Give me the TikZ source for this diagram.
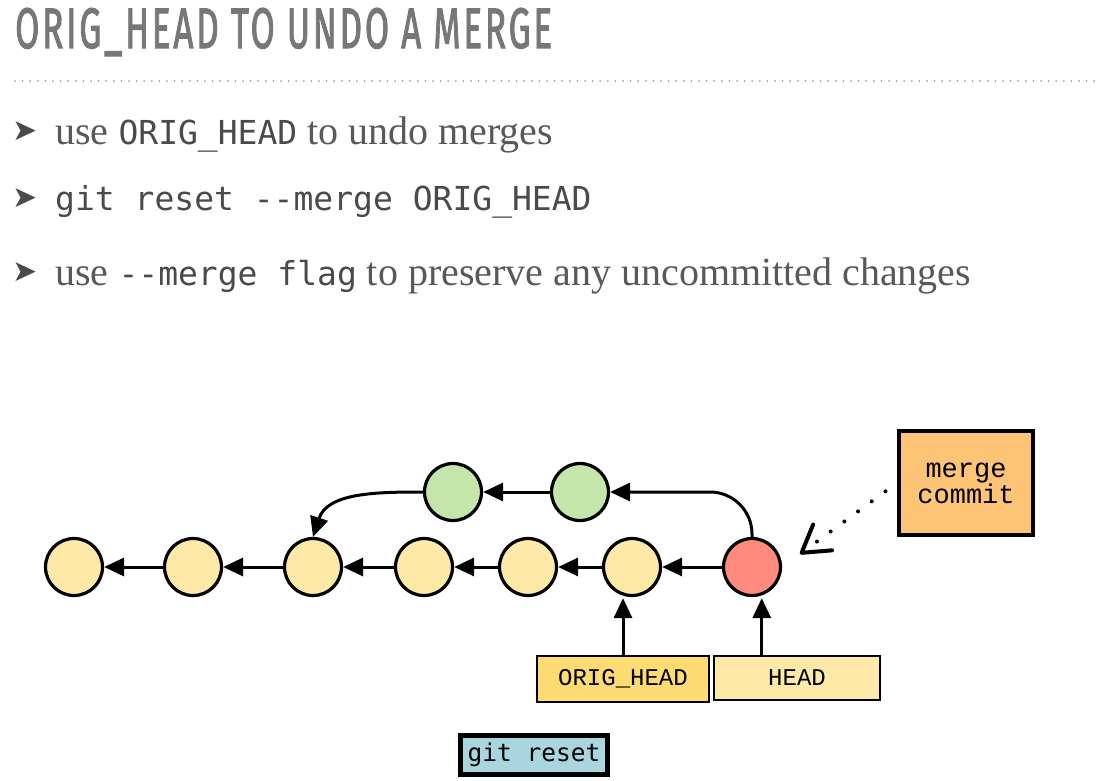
\documentclass[tikz,border=0pt]{standalone}
\usepackage{fontspec}
\usetikzlibrary{arrows.meta,calc}
\setmainfont{Liberation Serif}
\newfontfamily\titlefont[LetterSpace=8, FakeBold=2.2]{Fira Sans}
\newfontfamily\codefont{DejaVu Sans Mono}
\newfontfamily\boxfont{Liberation Mono}
\newfontfamily\symfont{DejaVu Sans}
\definecolor{titlegray}{HTML}{777777}
\definecolor{txtgray}{HTML}{595959}
\definecolor{codegray}{HTML}{4A4A4A}
\definecolor{dotgray}{HTML}{A0A0A0}
\definecolor{cyel}{HTML}{FFE9A8}
\definecolor{corig}{HTML}{FFDC73}
\definecolor{cgreen}{HTML}{C5E6AA}
\definecolor{cred}{HTML}{FF8B7E}
\definecolor{cmerge}{HTML}{FDC476}
\definecolor{cblue}{HTML}{A9D6DE}
\newcommand{\inlinecode}[1]{{\color{codegray}\codefont\fontsize{33}{40}\selectfont #1}}
\begin{document}
\begin{tikzpicture}[x=1pt,y=1pt,
  commit/.style={circle, draw=black, line width=3.2pt, minimum size=57pt, inner sep=0pt, fill=cyel},
  arr/.style={-{Triangle[length=20pt,width=18pt]}, line width=3pt, draw=black},
  refbox/.style={draw=black, line width=2.5pt, inner sep=0pt, font=\boxfont\fontsize{24}{26}\selectfont},
  bullettxt/.style={anchor=base west, inner sep=0pt, text=txtgray, font=\fontsize{40}{48}\selectfont},
  bulletmark/.style={inner sep=0pt, text=codegray, font=\symfont\fontsize{30}{30}\selectfont}
]
\useasboundingbox (0,0) rectangle (1106,-780);
\fill[white] (0,0) rectangle (1106,-780);

% title
\node[anchor=base west, inner sep=0pt, text=titlegray] (title) at (15,-48)
  {\resizebox{537pt}{40pt}{\titlefont ORIG\_HEAD TO UNDO A MERGE}};
\coordinate (sepL) at (15,-81);
\coordinate (sepR) at (1100,-81);
\draw[dotgray, line width=2pt, line cap=round, dash pattern=on 0pt off 7.6pt] (sepL) -- (sepR);

% bullets
\node[bulletmark] (m1) at (25,-131) {➤};
\node[bullettxt] (l1) at (55,-144) {use \inlinecode{ORIG\_HEAD} to undo merges};
\node[bulletmark] (m2) at (25,-198) {➤};
\node[bullettxt] (l2) at (55,-210) {\inlinecode{git reset --merge ORIG\_HEAD}};
\node[bulletmark] (m3) at (25,-272) {➤};
\node[bullettxt] (l3) at (55,-285) {use \inlinecode{--merge flag} to preserve any uncommitted changes};

% commits
\node[commit] (c1) at (74,-567) {};
\node[commit] (c2) at (193,-567) {};
\node[commit] (c3) at (313,-567) {};
\node[commit] (c4) at (424,-567) {};
\node[commit] (c5) at (528,-567) {};
\node[commit] (c6) at (632,-567) {};
\node[commit, fill=cred] (red) at (752,-567) {};
\node[commit, fill=cgreen] (g1) at (453,-492) {};
\node[commit, fill=cgreen] (g2) at (580,-492) {};

\draw[arr] (c2) -- (c1);
\draw[arr] (c3) -- (c2);
\draw[arr] (c4) -- (c3);
\draw[arr] (c5) -- (c4);
\draw[arr] (c6) -- (c5);
\draw[arr] (red) -- (c6);
\draw[arr] (g2) -- (g1);
\draw[arr, rounded corners=42pt] (red.north) |- (g2.east);
\draw[arr] (g1.west) to[out=180,in=72] (c3.north);

% refs
\node[refbox, fill=corig, minimum width=172pt, minimum height=46pt] (orig) at (623,-679) {ORIG\_HEAD};
\node[refbox, fill=cyel, minimum width=166pt, minimum height=44pt] (head) at (797,-678) {HEAD};
\coordinate (oTip) at ($(orig.north |- c6.south)+(0,-1)$);
\draw[arr] (orig.north) -- (oTip);
\coordinate (hBase) at ($(head.north west)+(49,0)$);
\coordinate (hTip) at ($(hBase |- red.south)+(0,-1)$);
\draw[arr] (hBase) -- (hTip);

% merge commit
\node[draw=black, line width=4.5pt, fill=cmerge, minimum width=134pt, minimum height=104pt, align=center,
  font=\boxfont\fontsize{27}{25}\selectfont] (merge) at (966,-483) {merge\\commit};
\coordinate (mtip) at (800,-554);
\draw[line width=4pt, line cap=round, dash pattern=on 0pt off 17pt,
  -{Straight Barb[length=26pt,width=32pt,round]}, shorten <=14pt] (merge.west) -- (mtip);

% git reset
\node[draw=black, line width=5pt, fill=cblue, minimum width=147pt, minimum height=39pt, inner sep=0pt,
  font=\codefont\fontsize{24.5}{26}\selectfont] (reset) at (534,-755) {git reset};
\end{tikzpicture}
\end{document}
